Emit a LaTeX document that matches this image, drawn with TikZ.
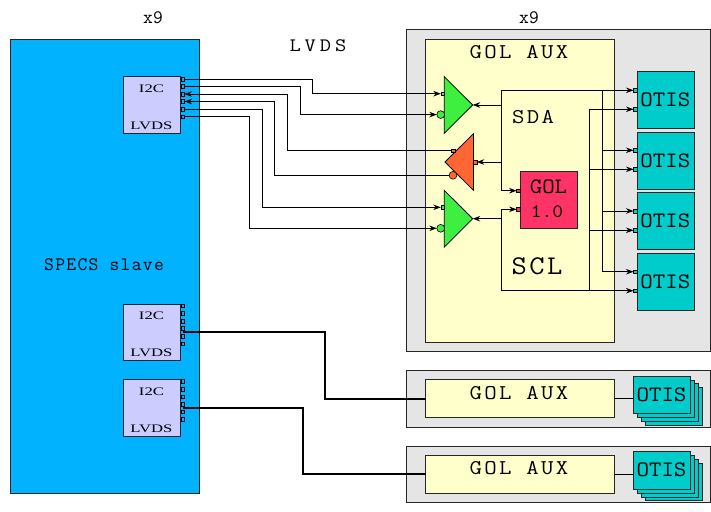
\documentclass[tikz,border=0pt]{standalone}
\usepackage{fontspec}
\setmainfont{Liberation Serif}
\usetikzlibrary{arrows.meta,shapes.geometric}
\newfontfamily\smallserif[FakeStretch=1.45]{Liberation Serif}
\newfontfamily\auxfont[FakeStretch=1.15,LetterSpace=11]{Latin Modern Mono}
\newfontfamily\otisfont[FakeStretch=1.1]{Latin Modern Mono}
\newfontfamily\lvdsfont[FakeStretch=1.15,LetterSpace=21]{Latin Modern Mono}
\newfontfamily\sclfont[FakeStretch=1.1,LetterSpace=9]{Latin Modern Mono}
\newfontfamily\slavefont[LetterSpace=7]{Latin Modern Mono}
\definecolor{specsblue}{HTML}{00B2FF}
\definecolor{lavbox}{HTML}{CCCCFF}
\definecolor{auxyellow}{HTML}{FFFFCC}
\definecolor{crategray}{HTML}{E5E5E5}
\definecolor{otisteal}{HTML}{00CCCC}
\definecolor{drvgreen}{HTML}{3FEF3F}
\definecolor{drvorange}{HTML}{FF6633}
\definecolor{golpink}{HTML}{FF3366}

\begin{document}
\begin{tikzpicture}[x=1pt,y=-1pt,>={Stealth[length=7.5pt,width=5.5pt]},line width=0.8pt,
  box/.style={draw=black!85,rectangle,inner sep=0pt,outer sep=0pt,anchor=north west},
  port/.style={draw=black,rectangle,inner sep=0pt,outer sep=0pt,minimum size=3.6pt,line width=0.6pt},
  bubble/.style={draw=black,circle,inner sep=0pt,outer sep=0pt,minimum size=7.8pt,line width=0.6pt},
  driver/.style={draw=black,isosceles triangle,isosceles triangle stretches,inner sep=0pt,outer sep=0pt,
    minimum height=28.4pt,minimum width=56.6pt,anchor=apex},
  otis/.style={box,fill=otisteal,minimum width=57pt,minimum height=57pt},
  stackotis/.style={box,fill=otisteal,minimum width=57.4pt,minimum height=37.4pt},
  i2c/.style={box,fill=lavbox,minimum width=57pt,minimum height=56.6pt},
  small/.style={font=\smallserif\fontsize{11.5}{12}\selectfont,inner sep=0pt},
  otistext/.style={font=\otisfont\fontsize{22}{22}\selectfont,inner sep=0pt},
  big/.style={font=\auxfont\fontsize{21}{21}\selectfont,inner sep=0pt},
  wire/.style={line width=0.8pt},
  thickwire/.style={line width=2pt}]

 \useasboundingbox (0,0) rectangle (711,511);

 % boxes
 \node[box,fill=specsblue,minimum width=189pt,minimum height=454pt] (specs) at (10,39) {};
 \node[box,fill=crategray,minimum width=303.5pt,minimum height=322pt] (crate1) at (406.5,29) {};
 \node[box,fill=crategray,minimum width=303.5pt,minimum height=57pt] (crate2) at (406.5,370) {};
 \node[box,fill=crategray,minimum width=303.5pt,minimum height=56pt] (crate3) at (406.5,446) {};
 \node[box,fill=auxyellow,minimum width=188.5pt,minimum height=303pt] (aux1) at (425.7,39) {};
 \node[box,fill=auxyellow,minimum width=189pt,minimum height=38pt] (aux2) at (425.7,379.5) {};
 \node[box,fill=auxyellow,minimum width=189pt,minimum height=38pt] (aux3) at (425.7,455) {};

 % i2c blocks
 \node[i2c] (i2ca) at (123.7,76.7) {};
 \node[i2c] (i2cb) at (123.7,304) {};
 \node[i2c] (i2cc) at (123.7,379.7) {};
 \foreach \n/\y in {a/89,b/316,c/392}{
   \node[small] (top\n) at (151.5,\y) {I2C};
 }
 \foreach \n/\y in {a/126,b/353,c/429}{
   \node[small] (low\n) at (151.5,\y) {LVDS};
 }
 \foreach \i/\y in {1/79,2/86.5,3/94,4/101.5,5/109,6/116.7}{
   \node[port,fill=specsblue] (pa\i) at (182.7,\y) {};
 }
 \foreach \i/\y in {1/305.7,2/313.3,3/321,4/328.3,5/336,6/343.7}{
   \node[port,fill=specsblue] (pb\i) at (182.7,\y) {};
 }
 \foreach \i/\y in {1/381.3,2/389,3/396.7,4/404,5/411.7,6/419.3}{
   \node[port,fill=specsblue] (pc\i) at (182.7,\y) {};
 }
 \coordinate (tapb) at (182.7,332.3);
 \coordinate (tapc) at (182.7,408);

 % drivers
 \node[driver,fill=drvgreen] (drv1) at (472.7,105) {};
 \node[driver,fill=drvorange,shape border rotate=180] (drv2) at (445,162) {};
 \node[driver,fill=drvgreen] (drv3) at (472.7,218.7) {};
 \node[port,fill=drvgreen] (drv1p) at (442.6,93.7) {};
 \node[bubble,fill=drvgreen] (drv1n) at (440.7,114.6) {};
 \node[port,fill=drvorange] (drv2p) at (453.5,150.6) {};
 \node[bubble,fill=drvorange] (drv2n) at (453,175.3) {};
 \node[port,fill=drvorange] (drv2o) at (475,162) {};
 \node[port,fill=drvgreen] (drv3p) at (442.6,207.3) {};
 \node[bubble,fill=drvgreen] (drv3n) at (440.7,228.3) {};

 % gol
 \node[box,fill=golpink,minimum width=57pt,minimum height=57pt] (gol) at (520.3,171.3) {};
 \node[otistext] (goltxt) at (548.5,186.5) {GOL};
 \node[font=\otisfont\fontsize{19}{19}\selectfont,inner sep=0pt] (golver) at (547,212) {1.0};
 \node[port,fill=golpink] (gola) at (518.4,190.7) {};
 \node[port,fill=golpink] (golb) at (518.4,209.3) {};

 % otis
 \foreach \i/\y in {1/71.3,2/132,3/192.3,4/253}{
   \node[otis] (otis\i) at (637.3,\y) {};
   \node[otistext] (ot\i) at (665.3,\y+28.5) {OTIS};
 }
 \foreach \i/\y in {1/90.3,2/109.3,3/150.3,4/169.3,5/211,6/230.3,7/271.7,8/290.7}{
   \node[port,fill=otisteal] (op\i) at (635.3,\y) {};
 }

 % stacked otis
 \foreach \d in {3,2,1}{
   \node[stackotis] at (633.3+\d*3.9,376+\d*3.9) {};
   \node[stackotis] at (633.3+\d*3.9,451.7+\d*3.9) {};
 }
 \node[stackotis] (otisb) at (633.3,376) {};
 \node[stackotis] (otisc) at (633.3,451.7) {};
 \node[otistext] (otb) at (661.5,394.5) {OTIS};
 \node[otistext] (otc) at (661.5,470) {OTIS};

 % labels
 \node[font=\ttfamily\fontsize{19}{19}\selectfont,inner sep=0pt] (x9a) at (153,18) {x9};
 \node[font=\ttfamily\fontsize{19}{19}\selectfont,inner sep=0pt] (x9b) at (529,18) {x9};
 \node[font=\lvdsfont\fontsize{19}{19}\selectfont,inner sep=0pt] (lvds) at (318,46) {LVDS};
 \node[big] (aux1t) at (519,52) {GOL AUX};
 \node[big] (aux2t) at (519,393) {GOL AUX};
 \node[big] (aux3t) at (519,468) {GOL AUX};
 \node[big] (sda) at (533,117) {SDA};
 \node[font=\sclfont\fontsize{27}{27}\selectfont,inner sep=0pt] (scl) at (537,266) {SCL};
 \node[font=\slavefont\fontsize{19}{19}\selectfont,inner sep=0pt] (slave) at (104,265) {SPECS slave};

 % i2c to drivers
 \draw[wire,->] (pa1) -- (312.3,79) |- (drv1p);
 \draw[wire,->] (pa2) -- (300,86.5) |- (drv1n);
 \draw[wire,<-] (pa3) -- (287.3,94) |- (drv2p);
 \draw[wire,<-] (pa4) -- (274.7,101.5) |- (drv2n);
 \draw[wire,->] (pa5) -- (262.3,109) |- (drv3p);
 \draw[wire,->] (pa6) -- (249.7,116.7) |- (drv3n);

 % sda and scl buses
 \coordinate (sdatop) at (501.7,90.3);
 \coordinate (scllow) at (501.7,290.7);
 \coordinate (sdaright) at (602.3,90.3);
 \coordinate (sclright) at (589.7,290.7);
 \draw[wire,->] (501.7,105) -- (drv1.apex);
 \draw[wire,->] (501.7,162) -- (drv2o);
 \draw[wire,->] (501.7,218.7) -- (drv3.apex);
 \draw[wire,->] (sdatop) |- (gola);
 \draw[wire,->] (scllow) |- (golb);
 \draw[wire,->] (sdatop) -- (op1);
 \draw[wire,->] (scllow) -- (op8);
 \draw[wire,->] (sdaright) |- (op3);
 \draw[wire,->] (sdaright) |- (op5);
 \draw[wire,->] (sdaright) |- (op7);
 \draw[wire,->] (sclright) |- (op6);
 \draw[wire,->] (sclright) |- (op4);
 \draw[wire,->] (sclright) |- (op2);

 % collapsed channels
 \draw[thickwire] (tapb) -- (325,332.3) |- (aux2);
 \draw[thickwire] (tapc) -- (302.7,408) |- (aux3);
 \draw[wire] (aux2.east) -- (aux2.east -| otisb.west);
 \draw[wire] (aux3.east) -- (aux3.east -| otisc.west);

\end{tikzpicture}
\end{document}
